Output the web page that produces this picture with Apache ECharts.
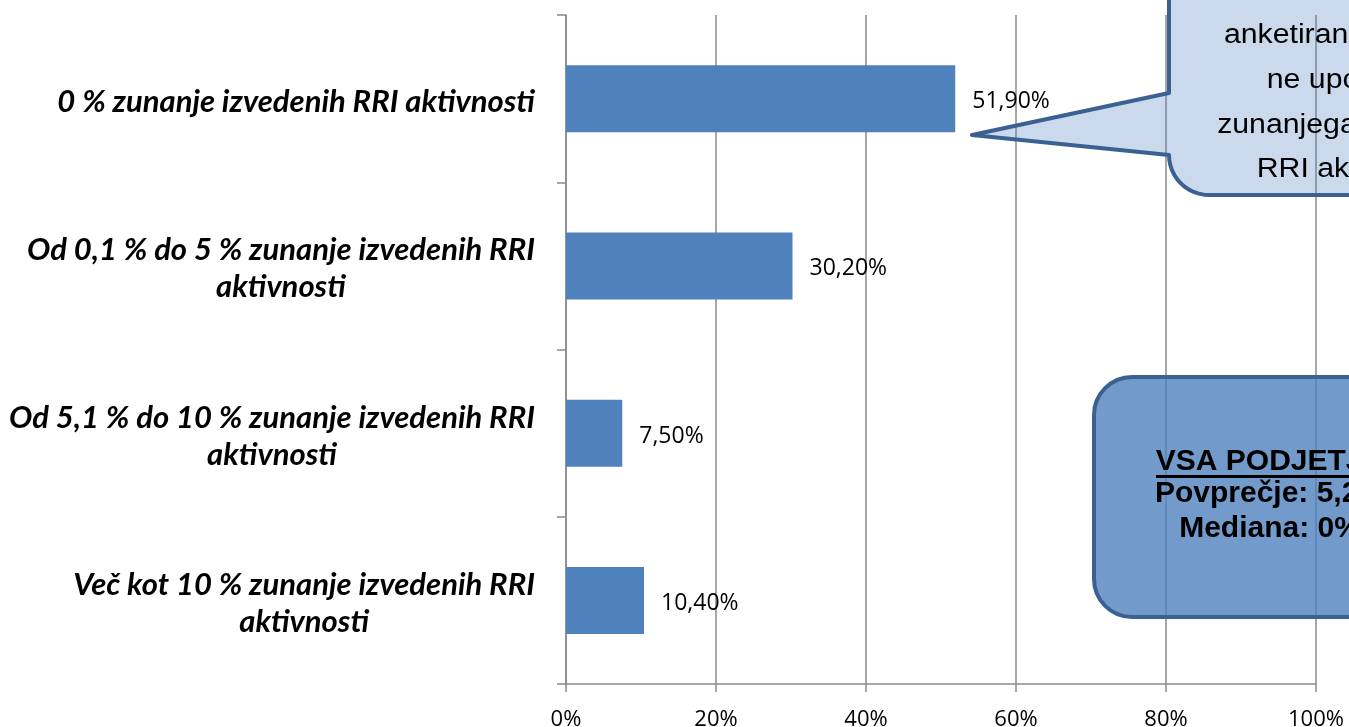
<!DOCTYPE html>
<html>
<head>
<meta charset="utf-8">
<script src="https://cdn.jsdelivr.net/npm/echarts@6/dist/echarts.min.js"></script>
<style>
html,body{margin:0;padding:0;background:#fff;}
#chart{width:1349px;height:727px;}
</style>
</head>
<body>
<div id="chart"></div>
<script>
const categories = [
  "0 % zunanje izvedenih RRI aktivnosti",
  "Od 0,1 % do 5 % zunanje izvedenih RRI aktivnosti",
  "Od 5,1 % do 10 % zunanje izvedenih RRI aktivnosti",
  "Več kot 10 % zunanje izvedenih RRI aktivnosti"
];
const values = [51.9, 30.2, 7.5, 10.4];
const xTicks = [0, 20, 40, 60, 80, 100];
const bubbleLines = ["anketiranih podjetij", "ne uporablja", "zunanjega izvajanja", "RRI aktivnosti"];
const boxLines = ["VSA PODJETJA", "Povprečje: 5,2%", "Mediana: 0%"];

const chart = echarts.init(document.getElementById('chart'));

function wrapLabel(s) {
  let txt = s;
  if (s.length > 38) {
    const i = s.lastIndexOf(' ');
    txt = s.slice(0, i) + '\n' + s.slice(i + 1);
  }
  return txt.split('\n').map(l => '{c|' + l + '}').join('\n');
}

const gray = '#8a8a8a';
const graphics = [];
// speech bubble outline points (with rounded bottom-left corner)
const bubblePts = [[1169, -50], [1169, 93], [972, 135], [1169, 155]];
const cr = 40, ccx = 1209, ccy = 155;
for (let k = 1; k <= 12; k++) {
  const a = Math.PI - (Math.PI / 2) * (k / 12);
  bubblePts.push([ccx + cr * Math.cos(a), ccy + cr * Math.sin(a)]);
}
bubblePts.push([1420, 195], [1420, -50]);
graphics.push({
  type: 'polygon', z: 10,
  shape: { points: bubblePts },
  style: { fill: 'rgba(79,129,189,0.30)', stroke: '#3b6192', lineWidth: 4, lineJoin: 'round' }
});
const bubbleMid = [36, 81, 126, 170];
bubbleLines.forEach((t, i) => {
  graphics.push({
    type: 'text', z: 11, x: 1350, y: bubbleMid[i], scaleX: 1.12,
    style: { text: t, font: '27px "Liberation Sans", Arial, sans-serif', fill: '#000', align: 'center', verticalAlign: 'middle' }
  });
});
// summary box
graphics.push({
  type: 'rect', z: 10,
  shape: { x: 1094, y: 377, width: 400, height: 240, r: 38 },
  style: { fill: 'rgba(79,129,189,0.80)', stroke: '#3b6192', lineWidth: 4 }
});
const boxMid = [462, 494, 529];
boxLines.forEach((t, i) => {
  graphics.push({
    type: 'text', z: 11, x: 1270, y: boxMid[i],
    style: { text: t, font: 'bold 30px "Liberation Sans", Arial, sans-serif', fill: '#000', align: 'center', verticalAlign: 'middle' }
  });
});
graphics.push({
  type: 'line', z: 11,
  shape: { x1: 1156, y1: 476.5, x2: 1420, y2: 476.5 },
  style: { stroke: '#000', lineWidth: 3 }
});

chart.setOption({
  animation: false,
  backgroundColor: '#fff',
  grid: { left: 566, right: 33, top: 15, bottom: 43, containLabel: false, outerBoundsMode: 'none' },
  xAxis: {
    type: 'value', min: xTicks[0], max: xTicks[xTicks.length - 1], interval: 20,
    axisLine: { show: true, lineStyle: { color: gray, width: 1.5 } },
    axisTick: { show: true, length: 8, lineStyle: { color: gray, width: 1.5 } },
    splitLine: { show: true, lineStyle: { color: gray, width: 1.5 } },
    axisLabel: { formatter: '{value}%', margin: 25, fontSize: 22, fontFamily: '"Open Sans", sans-serif', color: '#000' }
  },
  yAxis: {
    type: 'category', data: categories, inverse: true,
    axisLine: { show: true, lineStyle: { color: gray, width: 1.5 } },
    axisTick: { show: true, length: 9, lineStyle: { color: gray, width: 1.5 } },
    axisLabel: {
      margin: 31, formatter: wrapLabel, padding: [6, 0, 0, 0],
      rich: { c: { align: 'center', fontSize: 31, fontWeight: 'bold', fontStyle: 'italic', fontFamily: 'Lato, sans-serif', color: '#000', lineHeight: 37 } }
    }
  },
  series: [{
    type: 'bar', data: values, barWidth: 67,
    itemStyle: { color: '#4f81bd' },
    label: {
      show: true, position: 'right', distance: 17, offset: [0, 3],
      fontSize: 23, fontFamily: '"Open Sans", sans-serif', color: '#000',
      formatter: p => p.value.toFixed(2).replace('.', ',') + '%'
    }
  }],
  graphic: graphics
});
</script>
</body>
</html>
